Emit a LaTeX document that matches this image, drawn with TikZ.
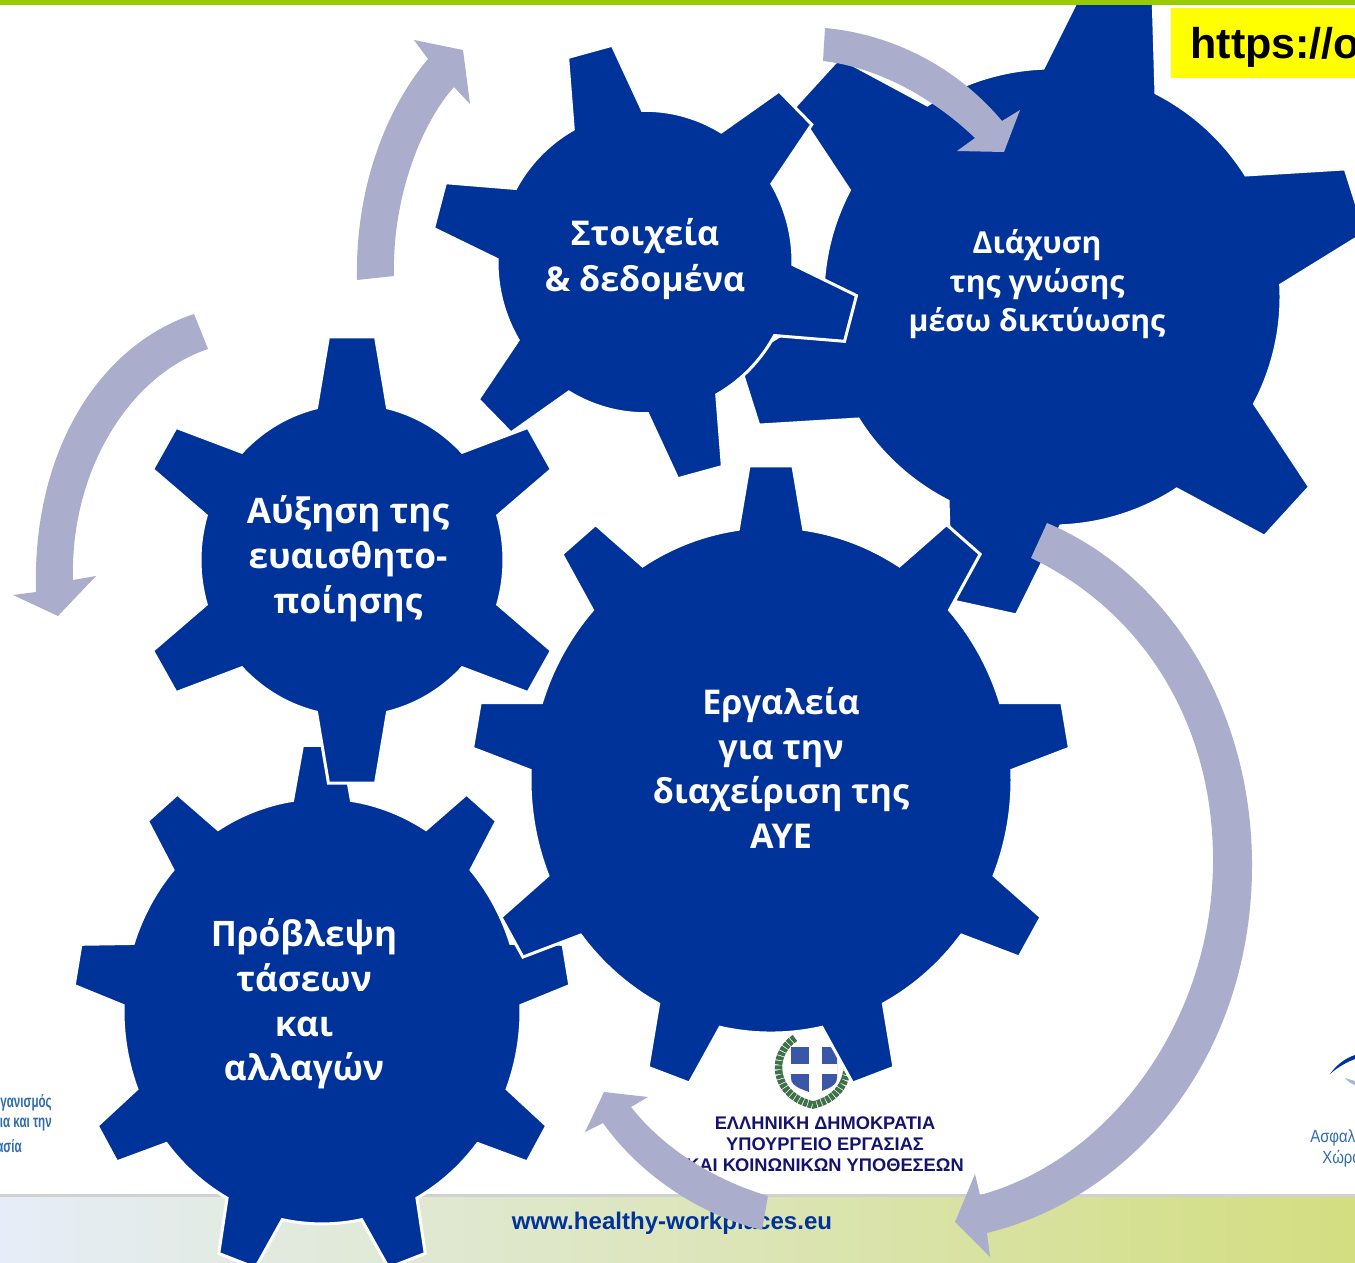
\documentclass[tikz,border=0pt]{standalone}
\usepackage{fontspec}
\setmainfont{Open Sans}
\newfontfamily\arialfont{Liberation Sans}
\definecolor{gearblue}{HTML}{003399}
\definecolor{arrowgrey}{HTML}{AAADCB}
\definecolor{topgreen}{HTML}{99CC00}
\definecolor{linkyellow}{HTML}{FFFF00}
\definecolor{logoblue}{HTML}{2F6DAE}
\definecolor{navytext}{HTML}{14146E}
\definecolor{bandleft}{HTML}{E6EDF8}
\definecolor{bandmid}{HTML}{DEE6D8}
\definecolor{bandright}{HTML}{D3DE80}
\definecolor{shieldblue}{HTML}{3A56A6}
\definecolor{wreathgreen}{HTML}{3F7048}
% cx, cy, root radius, tip radius, teeth, first angle, half root, half tip, y stretch
\newcommand{\gearshape}[9]{%
  \pgfmathsetmacro{\arck}{4/3*tan((360/#5-2*#7)/4)}
  \pgfmathsetmacro{\arca}{atan(\arck)}
  \pgfmathsetmacro{\arcr}{#3*sqrt(1+\arck*\arck)}
  \pgfmathtruncatemacro{\lastk}{#5-1}
  \filldraw [gear] ({#1+#3*cos(#6-#7)}, {#2-#9*#3*sin(#6-#7)})
  \foreach \k [evaluate=\k as \t using {#6+\k*360/#5}] in {0,...,\lastk} {
    -- ({#1+#4*cos(\t-#8)}, {#2-#9*#4*sin(\t-#8)})
    -- ({#1+#4*cos(\t+#8)}, {#2-#9*#4*sin(\t+#8)})
    -- ({#1+#3*cos(\t+#7)}, {#2-#9*#3*sin(\t+#7)})
    .. controls ({#1+\arcr*cos(\t+#7+\arca)}, {#2-#9*\arcr*sin(\t+#7+\arca)})
    and ({#1+\arcr*cos(\t+360/#5-#7-\arca)}, {#2-#9*\arcr*sin(\t+360/#5-#7-\arca)})
    .. ({#1+#3*cos(\t+360/#5-#7)}, {#2-#9*#3*sin(\t+360/#5-#7)})
  } -- cycle;
}
\tikzset{
  gear/.style={fill=gearblue, draw=white, line width=0.06cm, line join=miter},
  geartext/.style={text=white, align=center},
  bigarrow/.style={fill=arrowgrey, draw=none},
  logotext/.style={text=logoblue, font=\arialfont\bfseries\fontsize{10}{12}\selectfont, align=center},
  ministry/.style={text=navytext, font=\arialfont\bfseries\fontsize{10.4}{12}\selectfont},
}
\begin{document}
\begin{tikzpicture}[x=0.02cm, y=-0.02cm]
\useasboundingbox (0, 0) rectangle (1355, 1263);
\clip (0, 0) rectangle (1355, 1263);
\fill [white] (0, 0) rectangle (1355, 1263);

\shade [left color=bandleft, middle color=bandmid, right color=bandright] (0, 1196) rectangle (1355, 1263);
\fill [black!18] (0, 1194) rectangle (1355, 1197);

\node [logotext, anchor=east, inner sep=0pt, xscale=0.66, transform shape] (agency1) at (52, 1103) {γανισμός};
\node [logotext, anchor=east, inner sep=0pt, xscale=0.66, transform shape] (agency2) at (52, 1125) {ια και την};
\node [logotext, anchor=east, inner sep=0pt, xscale=0.66, transform shape] (agency3) at (22, 1146) {ασία};
\node [logotext, font=\arialfont\fontsize{10}{12}\selectfont, anchor=west, inner sep=0pt, xscale=0.85, transform shape] (safe1) at (1310, 1138) {Ασφαλ};
\node [logotext, font=\arialfont\fontsize{10}{12}\selectfont, anchor=west, inner sep=0pt, xscale=0.85, transform shape] (safe2) at (1322, 1159) {Χώρο};
\fill [gearblue] (1330, 1074) .. controls (1337, 1064) and (1346, 1058) .. (1355, 1055) -- (1355, 1059) .. controls (1347, 1062) and (1338, 1067) .. (1330, 1074) -- cycle;
\fill [gearblue!35] (1345, 1078) .. controls (1348, 1082) and (1352, 1084) .. (1355, 1085) -- (1355, 1081) -- cycle;

\draw [wreathgreen, line width=0.15cm, dash pattern=on 2.2pt off 0.5pt] (795, 1038) .. controls (768, 1056) and (774, 1096) .. (813, 1105) .. controls (852, 1096) and (856, 1056) .. (832, 1038);
\fill [shieldblue] (791, 1047) -- (837, 1047) -- (837, 1078) .. controls (837, 1088) and (822, 1090) .. (814, 1094) .. controls (806, 1090) and (791, 1088) .. (791, 1078) -- cycle;
\fill [white] (809, 1047) rectangle (822, 1094);
\fill [white] (791, 1064) rectangle (837, 1074);
\node [ministry] (greece) at (825, 1123) {ΕΛΛΗΝΙΚΗ ΔΗΜΟΚΡΑΤΙΑ};
\node [ministry] (labour) at (825, 1144) {ΥΠΟΥΡΓΕΙΟ ΕΡΓΑΣΙΑΣ};
\node [ministry] (social) at (825, 1165) {ΚΑΙ ΚΟΙΝΩΝΙΚΩΝ ΥΠΟΘΕΣΕΩΝ};
\node [text=gearblue, font=\arialfont\bfseries\fontsize{13.7}{16}\selectfont] (site) at (672, 1223) {www.healthy-workplaces.eu};

\gearshape{322}{1011}{199}{249}{9}{90}{8.5}{4.5}{1.07}
\gearshape{1052}{297}{229}{320}{6}{77.6}{14.6}{6}{1}
\gearshape{352}{560}{152}{218}{6}{90}{13.5}{6.2}{1.03}
\gearshape{645}{262}{148}{214}{6}{105}{14}{6.2}{1.025}
\gearshape{771}{780}{241}{300}{9}{90}{7.8}{4.2}{1.05}

\fill [topgreen] (0, 0) rectangle (1355, 5);
\fill [linkyellow] (1171, 8) rectangle (1355, 78);
\node [anchor=west, inner sep=0pt, font=\arialfont\bfseries\fontsize{24.5}{26}\selectfont] (link) at (1190, 47) {https://o};

\node [geartext, font=\bfseries\fontsize{19.4}{26}\selectfont] (stoixeia) at (645, 259) {Στοιχεία\\\& δεδομένα};
\node [geartext, font=\bfseries\fontsize{17.2}{22}\selectfont] (diachysi) at (1037, 284) {Διάχυση\\της γνώσης\\μέσω δικτύωσης};
\node [geartext, font=\bfseries\fontsize{19.4}{25.5}\selectfont] (ergaleia) at (781, 768) {Εργαλεία\\για την\\διαχείριση της\\ΑΥΕ};
\node [geartext, font=\bfseries\fontsize{20}{25.5}\selectfont] (auxisi) at (348, 559) {Αύξηση της\\ευαισθητο-\\ποίησης};
\node [geartext, font=\bfseries\fontsize{20}{25.5}\selectfont] (provlepsi) at (304, 1004) {Πρόβλεψη\\τάσεων\\και\\αλλαγών};

\fill [bigarrow] (825, 28) .. controls (890, 34) and (955, 65) .. (1002, 121) -- (1020, 110) -- (1004, 152) -- (957, 151) -- (975, 138) .. controls (930, 95) and (875, 67) .. (823, 61) -- cycle;
\fill [bigarrow] (357, 280) .. controls (355, 190) and (385, 110) .. (428, 59) -- (414, 40) -- (463, 50) -- (470, 104) -- (454, 87) .. controls (420, 125) and (392, 200) .. (394, 276) -- cycle;
\fill [bigarrow] (194, 314) .. controls (100, 345) and (32, 450) .. (36, 592) -- (13, 595) -- (58, 616) -- (96, 576) -- (73, 580) .. controls (70, 470) and (130, 375) .. (208, 349) -- cycle;
\fill [bigarrow] (1047, 523) .. controls (1170, 575) and (1252, 710) .. (1252, 865) .. controls (1252, 1050) and (1140, 1195) .. (987, 1233) -- (990, 1257) -- (955, 1222) -- (975, 1174) -- (980, 1195) .. controls (1110, 1160) and (1213, 1020) .. (1213, 860) .. controls (1213, 720) and (1140, 610) .. (1031, 558) -- cycle;
\fill [bigarrow] (768, 1196) .. controls (715, 1180) and (665, 1150) .. (631, 1107) -- (648, 1097) -- (604, 1092) -- (585, 1132) -- (603, 1123) .. controls (640, 1175) and (700, 1215) .. (762, 1230) -- cycle;
\end{tikzpicture}
\end{document}
